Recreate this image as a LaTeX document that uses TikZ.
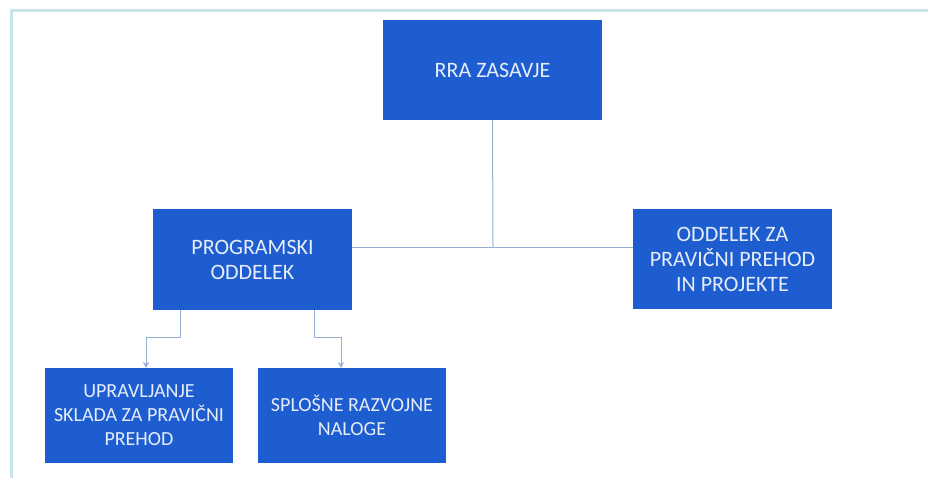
\documentclass[tikz,border=0pt]{standalone}
\usepackage{fontspec}
\setmainfont{Carlito}
\usetikzlibrary{arrows.meta}
\definecolor{boxblue}{RGB}{30,93,208}
\definecolor{linec}{RGB}{150,176,210}
\definecolor{framec}{RGB}{200,228,232}
\definecolor{txtc}{RGB}{230,237,248}
\tikzset{
  orgbox/.style={rectangle, fill=boxblue, draw=none, inner sep=0pt, outer sep=0pt,
    text=txtc, align=center, font=\fontsize{22}{25}\selectfont},
  smallbox/.style={orgbox, font=\fontsize{20}{24}\selectfont},
  conn/.style={draw=linec, line width=1pt},
  arr/.style={conn, -{Stealth[length=6pt,width=6pt]}}
}
\begin{document}
\begin{tikzpicture}[x=1pt,y=-1pt]
\useasboundingbox (0,0) rectangle (928,477);
\fill[white] (0,0) rectangle (928,477);
\draw[framec, line width=3pt] (940,10) -- (11,10) -- (11,490);
\node[orgbox, minimum width=219pt, minimum height=100pt] (rra) at (492.5,70) {RRA ZASAVJE};
\node[orgbox, minimum width=199pt, minimum height=101pt] (prog) at (252.5,259.5) {PROGRAMSKI\\ODDELEK};
\node[orgbox, minimum width=199pt, minimum height=100pt] (odd) at (732.5,259) {ODDELEK ZA\\PRAVIČNI PREHOD\\IN PROJEKTE};
\node[smallbox, minimum width=188pt, minimum height=95pt] (upr) at (139,415.5) {UPRAVLJANJE\\SKLADA ZA PRAVIČNI\\PREHOD};
\node[smallbox, minimum width=188pt, minimum height=95pt] (spl) at (352,415.5) {SPLOŠNE RAZVOJNE\\NALOGE};
\coordinate (hj) at (493,247);
\draw[conn] (rra.south) -- (hj);
\draw[conn] ([yshift=12.5pt]prog.east) -- ([yshift=12pt]odd.west);
\draw[arr] ([xshift=-72.5pt]prog.south) -- ++(0,27) -| ([xshift=7pt]upr.north);
\draw[arr] ([xshift=61.5pt]prog.south) -- ++(0,27) -| ([xshift=-11pt]spl.north);
\end{tikzpicture}
\end{document}
